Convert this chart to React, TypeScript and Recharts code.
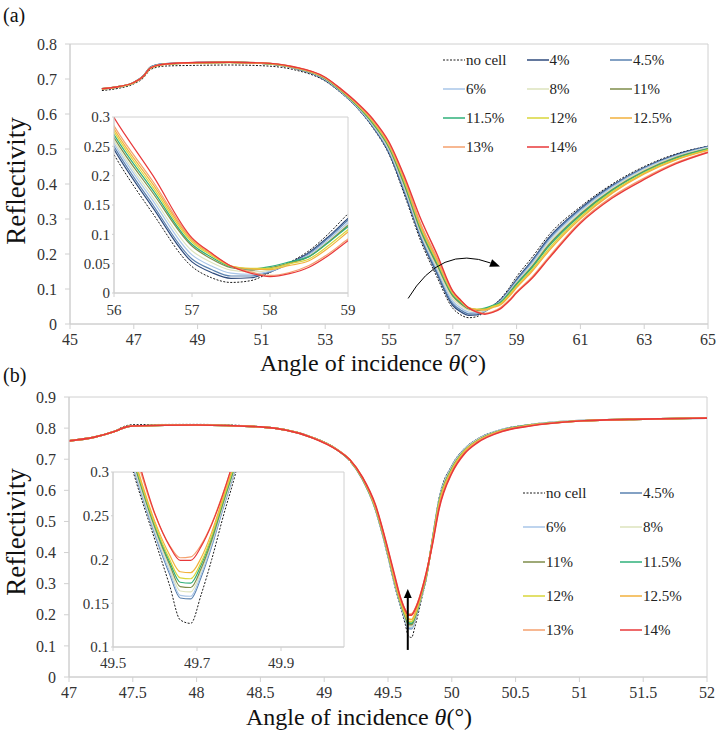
import React from "react";
import { LineChart, Line, XAxis, YAxis, ReferenceArea, ReferenceLine } from "recharts";

const FONT = '"Liberation Serif", "Times New Roman", Times, "DejaVu Serif", serif';

// ---------- panel (a): reflectivity vs angle ----------
const anglesA = [46, 46.5, 47, 47.3, 47.5, 47.7, 48, 49, 50, 51, 52, 53, 53.5, 54, 54.5, 55, 55.5, 56, 56.5, 57, 57.25, 57.5, 57.75, 58, 58.25, 58.5, 58.75, 59, 59.5, 60, 61, 62, 63, 64, 65];
const noCellA = [.667, .673, .686, .703, .725, .733, .737, .739, .740, .738, .727, .694, .660, .617, .560, .485, .365, .236, .135, .045, .026, .018, .021, .035, .052, .072, .101, .135, .192, .253, .335, .400, .450, .486, .508];
const p4A = [.671, .677, .690, .709, .733, .740, .744, .747, .748, .745, .732, .697, .662, .619, .563, .489, .372, .245, .145, .053, .035, .025, .026, .036, .051, .069, .096, .127, .183, .245, .330, .396, .447, .484, .507];
const p45A = [.671, .677, .690, .709, .732, .740, .744, .747, .748, .745, .732, .698, .663, .620, .565, .492, .377, .250, .150, .058, .040, .029, .029, .036, .050, .067, .094, .124, .180, .241, .327, .394, .445, .482, .506];
const p6A = [.672, .678, .690, .708, .731, .739, .743, .746, .748, .745, .733, .699, .664, .621, .567, .496, .382, .255, .157, .065, .046, .034, .032, .037, .050, .065, .091, .120, .175, .236, .323, .391, .443, .480, .505];
const p8A = [.671, .677, .689, .708, .730, .738, .742, .746, .747, .745, .733, .700, .665, .623, .570, .500, .388, .260, .163, .072, .052, .039, .036, .039, .050, .063, .088, .117, .170, .230, .318, .387, .440, .478, .503];
const p11A = [.672, .678, .690, .708, .730, .738, .743, .746, .748, .745, .733, .701, .666, .624, .572, .504, .393, .265, .170, .080, .058, .043, .039, .043, .051, .062, .087, .115, .166, .225, .314, .384, .437, .476, .501];
const p115A = [.672, .678, .690, .708, .730, .738, .743, .746, .748, .746, .734, .702, .667, .625, .574, .507, .398, .270, .175, .083, .061, .045, .041, .045, .053, .062, .086, .113, .163, .221, .311, .382, .435, .474, .500];
const p12A = [.671, .677, .689, .707, .729, .737, .742, .746, .747, .745, .734, .703, .668, .627, .577, .510, .403, .275, .180, .087, .064, .046, .042, .042, .050, .058, .081, .108, .157, .214, .306, .378, .432, .471, .498];
const p125A = [.672, .678, .690, .708, .730, .738, .743, .746, .748, .746, .734, .703, .669, .628, .579, .513, .408, .280, .185, .090, .066, .046, .041, .040, .047, .055, .077, .104, .152, .208, .301, .374, .429, .469, .496];
const p13A = [.672, .678, .690, .708, .730, .738, .743, .747, .748, .746, .735, .704, .670, .630, .582, .516, .413, .285, .190, .092, .067, .046, .036, .030, .035, .047, .067, .092, .136, .190, .292, .364, .417, .461, .492];
const p14A = [.672, .678, .690, .708, .730, .738, .743, .747, .748, .746, .735, .705, .671, .632, .585, .520, .418, .299, .200, .094, .068, .046, .034, .028, .033, .044, .064, .089, .132, .186, .288, .360, .413, .458, .490];

const ticksXA = [45, 47, 49, 51, 53, 55, 57, 59, 61, 63, 65];
const ticksYA = [0, 0.1, 0.2, 0.3, 0.4, 0.5, 0.6, 0.7, 0.8];
const insetTicksXA = [56, 57, 58, 59];
const insetTicksYA = [0, 0.05, 0.1, 0.15, 0.2, 0.25, 0.3];
const arrowA = [{ x: 55.6, y: 0.073 }, { x: 58.48, y: 0.164 }];

// ---------- panel (b) ----------
const anglesB = [47, 47.2, 47.35, 47.45, 47.5, 48, 48.5, 48.9, 49.1, 49.2, 49.3, 49.4, 49.5, 49.55, 49.6, 49.635, 49.66, 49.685, 49.71, 49.735, 49.76, 49.8, 49.85, 49.9, 50, 50.1, 50.2, 50.4, 50.6, 51, 51.5, 52];
const noCellB = [.759, .771, .790, .808, .811, .812, .805, .772, .732, .695, .634, .538, .385, .297, .222, .170, .131, .127, .160, .200, .245, .315, .450, .575, .680, .735, .765, .797, .811, .824, .829, .832];
const p45B = [.759, .771, .788, .804, .807, .810, .804, .771, .731, .696, .635, .541, .389, .302, .228, .183, .156, .155, .180, .215, .255, .320, .447, .570, .677, .733, .764, .796, .810, .824, .829, .832];
const p6B = [.759, .771, .788, .804, .807, .810, .804, .771, .731, .696, .636, .542, .391, .304, .230, .186, .159, .158, .183, .217, .257, .321, .446, .568, .675, .732, .763, .796, .810, .824, .829, .832];
const p8B = [.759, .771, .788, .804, .807, .810, .804, .771, .731, .697, .637, .543, .393, .307, .233, .190, .164, .163, .187, .220, .259, .322, .445, .565, .673, .730, .762, .795, .810, .824, .829, .832];
const p11B = [.759, .771, .788, .804, .807, .810, .804, .771, .731, .697, .638, .545, .396, .310, .236, .194, .169, .168, .190, .222, .261, .324, .443, .562, .670, .728, .760, .794, .809, .823, .829, .832];
const p115B = [.759, .771, .788, .804, .807, .810, .804, .771, .731, .697, .638, .546, .398, .312, .238, .197, .174, .173, .194, .225, .263, .325, .442, .560, .668, .727, .759, .794, .809, .823, .829, .832];
const p12B = [.759, .771, .788, .804, .807, .810, .804, .771, .731, .698, .639, .547, .400, .314, .240, .200, .179, .178, .197, .227, .265, .327, .440, .557, .666, .726, .758, .793, .808, .823, .829, .832];
const p125B = [.759, .771, .788, .804, .807, .810, .804, .771, .731, .698, .640, .549, .403, .317, .243, .205, .186, .185, .202, .231, .268, .329, .438, .553, .663, .724, .757, .793, .808, .823, .829, .832];
const p13B = [.759, .771, .788, .804, .807, .810, .804, .771, .731, .699, .641, .552, .407, .325, .251, .216, .202, .203, .217, .241, .273, .333, .434, .545, .658, .720, .755, .791, .807, .823, .829, .832];
const p14B = [.759, .771, .788, .804, .807, .810, .804, .770, .730, .699, .642, .555, .410, .330, .252, .215, .199, .199, .215, .240, .272, .335, .430, .540, .655, .718, .753, .790, .806, .823, .829, .832];

const ticksXB = [47, 47.5, 48, 48.5, 49, 49.5, 50, 50.5, 51, 51.5, 52];
const ticksYB = [0, 0.1, 0.2, 0.3, 0.4, 0.5, 0.6, 0.7, 0.8, 0.9];
const insetTicksXB = [49.5, 49.7, 49.9];
const insetTicksYB = [0.1, 0.15, 0.2, 0.25, 0.3];
const arrowB = [{ x: 49.655, y: 0.087 }, { x: 49.655, y: 0.283 }];

const seriesA = [
  { key: "nc", label: "no cell", color: "#1a1a1a", dashed: true, values: noCellA },
  { key: "c4", label: "4%", color: "#2f4b7c", values: p4A },
  { key: "c45", label: "4.5%", color: "#5a82b0", values: p45A },
  { key: "c6", label: "6%", color: "#a9c6e8", values: p6A },
  { key: "c8", label: "8%", color: "#dde3bd", values: p8A },
  { key: "c11", label: "11%", color: "#7e8c4a", values: p11A },
  { key: "c115", label: "11.5%", color: "#2fb07a", values: p115A },
  { key: "c12", label: "12%", color: "#d8d63a", values: p12A },
  { key: "c125", label: "12.5%", color: "#f2b13c", values: p125A },
  { key: "c13", label: "13%", color: "#f5a06e", values: p13A },
  { key: "c14", label: "14%", color: "#e8383a", values: p14A },
];

const seriesB = [
  { key: "nc", label: "no cell", color: "#1a1a1a", dashed: true, values: noCellB },
  { key: "c45", label: "4.5%", color: "#5a82b0", values: p45B },
  { key: "c6", label: "6%", color: "#a9c6e8", values: p6B },
  { key: "c8", label: "8%", color: "#dde3bd", values: p8B },
  { key: "c11", label: "11%", color: "#7e8c4a", values: p11B },
  { key: "c115", label: "11.5%", color: "#2fb07a", values: p115B },
  { key: "c12", label: "12%", color: "#d8d63a", values: p12B },
  { key: "c125", label: "12.5%", color: "#f2b13c", values: p125B },
  { key: "c13", label: "13%", color: "#f5a06e", values: p13B },
  { key: "c14", label: "14%", color: "#e8383a", values: p14B },
];

type Series = { key: string; label: string; color: string; dashed?: boolean; values: number[] };

const buildRows = (xs: number[], series: Series[]) =>
  xs.map((x, i) => {
    const row: Record<string, number> = { x };
    series.forEach((s) => (row[s.key] = s.values[i]));
    return row;
  });

const rowsA = buildRows(anglesA, seriesA);
const rowsB = buildRows(anglesB, seriesB);

const AXIS = "#d0d0d0";
const tickStyle = (size: number) => ({ fill: "#333", fontSize: size, fontFamily: FONT });

function renderLines(series: Series[], width: number) {
  return series.map((s) => (
    <Line
      key={s.key}
      dataKey={s.key}
      type="monotone"
      stroke={s.color}
      strokeWidth={s.dashed ? 1 : width}
      strokeDasharray={s.dashed ? "2 1.5" : undefined}
      dot={false}
      activeDot={false}
      isAnimationActive={false}
    />
  ));
}

// curved annotation arrow between the two segment points
function CurvedArrow(props: any) {
  const { x1, y1, x2, y2 } = props;
  const dx = x2 - x1, dy = y2 - y1;
  const len = Math.hypot(dx, dy) || 1;
  const cx = (x1 + x2) / 2 + (dy / len) * len * 0.42;
  const cy = (y1 + y2) / 2 + (-dx / len) * len * 0.42;
  const ax = x2 - cx, ay = y2 - cy;
  const al = Math.hypot(ax, ay) || 1;
  const ux = ax / al, uy = ay / al;
  const bx = x2 - ux * 10, by = y2 - uy * 10;
  return (
    <g>
      <path d={`M${x1},${y1} Q${cx},${cy} ${bx},${by}`} fill="none" stroke="#000" strokeWidth={1} />
      <polygon points={`${x2},${y2} ${bx - uy * 4},${by + ux * 4} ${bx + uy * 4},${by - ux * 4}`} fill="#000" />
    </g>
  );
}

function StraightArrow(props: any) {
  const { x1, y1, x2, y2 } = props;
  const dx = x2 - x1, dy = y2 - y1;
  const len = Math.hypot(dx, dy) || 1;
  const ux = dx / len, uy = dy / len;
  const bx = x2 - ux * 9, by = y2 - uy * 9;
  return (
    <g>
      <line x1={x1} y1={y1} x2={bx} y2={by} stroke="#000" strokeWidth={2} />
      <polygon points={`${x2},${y2} ${bx - uy * 4},${by + ux * 4} ${bx + uy * 4},${by - ux * 4}`} fill="#000" />
    </g>
  );
}

function Legend({ items, left, top, colW, rowH, cols }: { items: Series[]; left: number; top: number; colW: number; rowH: number; cols: number }) {
  return (
    <>
      {items.map((s, i) => (
        <div
          key={s.key}
          style={{
            position: "absolute",
            left: left + (i % cols) * colW,
            top: top + Math.floor(i / cols) * rowH - 9,
            height: 18,
            lineHeight: "18px",
            display: "flex",
            alignItems: "center",
            fontFamily: FONT,
            fontSize: 15,
            color: "#222",
            whiteSpace: "nowrap",
          }}
        >
          <svg width={22} height={4} style={{ display: "block" }}>
            <line x1={0} y1={2} x2={22} y2={2} stroke={s.color} strokeWidth={s.dashed ? 1 : 1.5} strokeDasharray={s.dashed ? "2 1.5" : undefined} />
          </svg>
          <span style={{ marginLeft: 1 }}>{s.label}</span>
        </div>
      ))}
    </>
  );
}

function AxisTitle({ centerX, top }: { centerX: number; top: number }) {
  return (
    <div style={{ position: "absolute", left: centerX - 150, width: 300, top, height: 24, lineHeight: "24px", textAlign: "center", fontFamily: FONT, fontSize: 24, color: "#111", whiteSpace: "nowrap" }}>
      Angle of incidence <i>θ</i>(°)
    </div>
  );
}

function YTitle({ centerY }: { centerY: number }) {
  return (
    <div style={{ position: "absolute", left: 16, top: centerY, lineHeight: "28px", transform: "translate(-50%, -50%) rotate(-90deg)", fontFamily: FONT, fontSize: 27, color: "#111", whiteSpace: "nowrap" }}>
      Reflectivity
    </div>
  );
}

export default function App() {
  return (
    <div style={{ position: "absolute", left: 0, top: 0, width: 719, height: 733, background: "#fff", overflow: "hidden", fontFamily: FONT }}>
      {/* ---- panel (a) ---- */}
      <div style={{ position: "absolute", left: 0, top: 0 }}>
        <LineChart width={719} height={370} data={rowsA} margin={{ top: 44, right: 11, left: 0, bottom: 0 }}>
          <XAxis dataKey="x" type="number" domain={[45, 65]} ticks={ticksXA} interval={0} allowDataOverflow height={46} tickSize={5} tickMargin={5} stroke={AXIS} tick={tickStyle(16)} />
          <YAxis type="number" domain={[0, 0.8]} ticks={ticksYA} interval={0} allowDataOverflow width={70} tickSize={5} tickMargin={8} stroke={AXIS} tick={tickStyle(16)} />
          <ReferenceArea x1={45} x2={65} y1={0} y2={0.8} fill="none" stroke={AXIS} strokeWidth={1} />
          {renderLines(seriesA, 1.4)}
          <ReferenceLine segment={arrowA} shape={CurvedArrow} />
        </LineChart>
      </div>
      <div style={{ position: "absolute", left: 3, top: 4, lineHeight: "22px", fontSize: 20, color: "#111" }}>(a)</div>
      <YTitle centerY={181} />
      <AxisTitle centerX={373} top={351} />
      <Legend items={seriesA} left={443} top={60} colW={83.5} rowH={29} cols={3} />

      {/* inset (a) */}
      <div style={{ position: "absolute", left: 72, top: 107, width: 284, height: 212, background: "#fff" }}>
        <LineChart width={284} height={212} data={rowsA} margin={{ top: 10, right: 8, left: 0, bottom: 0 }}>
          <XAxis dataKey="x" type="number" domain={[56, 59]} ticks={insetTicksXA} interval={0} allowDataOverflow height={26} tickSize={4} tickMargin={7} stroke={AXIS} tick={tickStyle(15)} />
          <YAxis type="number" domain={[0, 0.3]} ticks={insetTicksYA} interval={0} allowDataOverflow width={42} tickSize={2} tickMargin={2} stroke={AXIS} tick={tickStyle(15)} />
          <ReferenceArea x1={56} x2={59} y1={0} y2={0.3} fill="none" stroke={AXIS} strokeWidth={1} />
          {renderLines(seriesA, 1.2)}
        </LineChart>
      </div>

      {/* ---- panel (b) ---- */}
      <div style={{ position: "absolute", left: 0, top: 367 }}>
        <LineChart width={719} height={366} data={rowsB} margin={{ top: 30, right: 12, left: 0, bottom: 0 }}>
          <XAxis dataKey="x" type="number" domain={[47, 52]} ticks={ticksXB} interval={0} allowDataOverflow height={56} tickSize={5} tickMargin={5} stroke={AXIS} tick={tickStyle(16)} />
          <YAxis type="number" domain={[0, 0.9]} ticks={ticksYB} interval={0} allowDataOverflow width={69} tickSize={5} tickMargin={8} stroke={AXIS} tick={tickStyle(16)} />
          <ReferenceArea x1={47} x2={52} y1={0} y2={0.9} fill="none" stroke={AXIS} strokeWidth={1} />
          {renderLines(seriesB, 1.6)}
          <ReferenceLine segment={arrowB} shape={StraightArrow} />
        </LineChart>
      </div>
      <div style={{ position: "absolute", left: 3, top: 364, lineHeight: "22px", fontSize: 20, color: "#111" }}>(b)</div>
      <YTitle centerY={532} />
      <AxisTitle centerX={359} top={705} />
      <Legend items={seriesB} left={523} top={493} colW={97} rowH={34.3} cols={2} />

      {/* inset (b) */}
      <div style={{ position: "absolute", left: 71, top: 461, width: 279, height: 212, background: "#fff" }}>
        <LineChart width={279} height={212} data={rowsB} margin={{ top: 11, right: 6, left: 0, bottom: 0 }}>
          <XAxis dataKey="x" type="number" domain={[49.5, 50.05]} ticks={insetTicksXB} interval={0} allowDataOverflow height={26} tickSize={4} tickMargin={6} stroke={AXIS} tick={tickStyle(15)} />
          <YAxis type="number" domain={[0.1, 0.3]} ticks={insetTicksYB} interval={0} allowDataOverflow width={42} tickSize={2} tickMargin={2} stroke={AXIS} tick={tickStyle(15)} />
          <ReferenceArea x1={49.5} x2={50.05} y1={0.1} y2={0.3} fill="none" stroke={AXIS} strokeWidth={1} />
          {renderLines(seriesB, 1.2)}
        </LineChart>
      </div>
    </div>
  );
}
